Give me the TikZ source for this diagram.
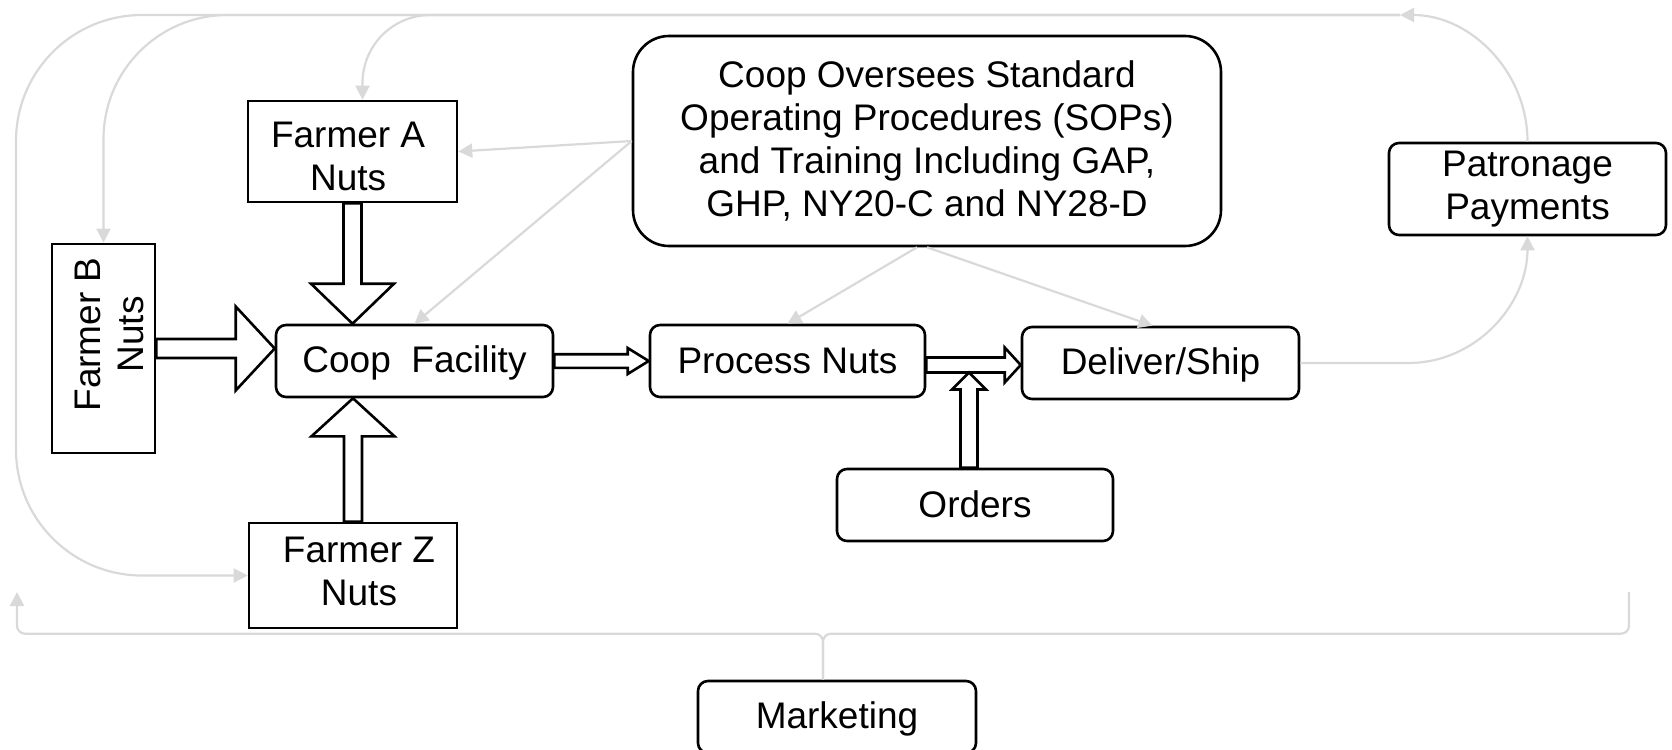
\documentclass[tikz,border=0pt]{standalone}
\usepackage{fontspec}
\setmainfont{Liberation Sans}
\usetikzlibrary{calc,arrows.meta}
\definecolor{CoopLineGray}{RGB}{217,217,217}

\begin{document}
\begin{tikzpicture}[x=0.5pt,y=-0.5pt,
  every node/.style={font=\fontsize{18.5pt}{21.5pt}\selectfont,
    execute at begin node={\rule{0pt}{15.2pt}},execute at end node={\rule[-2.8pt]{0pt}{2.8pt}}},
  farmbox/.style 2 args={draw,line width=1.3pt,fill=white,align=center,inner sep=0pt,minimum width=#1,minimum height=#2},
  farmtxt/.style={align=center,inner sep=0pt},
  rbox/.style 2 args={farmbox={#1}{#2},rounded corners=5pt},
  blk/.style={draw,line width=1.3pt,fill=white},
  gline/.style={draw=CoopLineGray,line width=1.1pt},
  garrow/.style={gline,-{Triangle[length=7pt,width=7pt]}}]
\useasboundingbox (0,0) rectangle (1672,750);
% boxes
\node[farmbox={104.5pt}{50.5pt}] (fa) at (352.5,151.5) {};
\node[farmtxt] (fatxt) at ([xshift=-2.2pt,yshift=-3.8pt]fa.center) {Farmer A\\Nuts};
\node[farmbox={51.5pt}{104.5pt}] (fb) at (103.5,348.5) {};
\node[farmtxt,rotate=90] (fbtxt) at ([xshift=4.3pt,yshift=7pt]fb.center) {Farmer B\\Nuts};
\node[farmbox={104pt}{52.5pt}] (fz) at (353,575.5) {};
\node[farmtxt] (fztxt) at ([xshift=3pt,yshift=0.7pt]fz.center) {Farmer Z\\Nuts};
\node[rbox={138.5pt}{36pt}] (coop) at (414.5,361) {Coop~~Facility};
\node[rbox={137.5pt}{36pt}] (proc) at (787.5,361) {Process Nuts};
\node[rbox={138.5pt}{36pt}] (ship) at (1160.5,363) {Deliver/Ship};
\node[rbox={138pt}{36pt}] (ord) at (975,505) {Orders};
\node[rbox={294pt}{105pt},rounded corners=18pt] (sop) at (927,141)
   {Coop Oversees Standard\\Operating Procedures (SOPs)\\and Training Including GAP,\\GHP, NY20-C and NY28-D};
\node[rbox={138.5pt}{46pt}] (pay) at (1527.5,189) {Patronage\\Payments};
\node[rbox={139pt}{36pt}] (mkt) at (837,717) {Marketing};
% grey connectors
\coordinate (top) at (1400,15);
\coordinate (lft) at (16,15);
\coordinate (mkl) at (17,592);
\coordinate (mkr) at (1629,592);
\draw[garrow] (sop.west) -- (fa.east);
\draw[garrow] (sop.west) -- (coop.north);
\draw[garrow] ([xshift=-5pt]sop.south) -- (proc.north);
\draw[garrow] (sop.south) -- ([xshift=-4pt]ship.north);
\draw[garrow] (ship.east) -- ++(108,0) to[out=0,in=-90] (pay.south);
\draw[garrow] (pay.north) to[out=90,in=0] (top);
\draw[garrow,rounded corners=34pt] (top) -| ([xshift=5pt]fa.north);
\draw[garrow,rounded corners=62pt] (top) -| (fb.north);
\draw[garrow,rounded corners=63pt] (top) -- (lft) |- (fz.west);
\draw[garrow,rounded corners=4pt] ([xshift=-7pt]mkt.north) -- ++(0,-46) -| (mkl);
\draw[gline,rounded corners=4pt] ([xshift=-7pt]mkt.north) -- ++(0,-46) -| (mkr);
% block arrows
\coordinate (tA) at (coop.north -| fa.south);
\coordinate (tB) at (coop.west |- fb.east);
\coordinate (tZ) at (coop.south -| fz.north);
\coordinate (sD) at ([yshift=-2pt]proc.east);
\coordinate (tD) at (ship.west |- sD);
\coordinate (sO) at ([xshift=-3pt]ord.north);
\coordinate (tO) at ([yshift=-3.75pt]sD -| sO);
\foreach \src/\tip/\sw/\hw/\hl in {fa.south/tA/4.5pt/20.75pt/20pt, fb.east/tB/4.75pt/21pt/19.5pt,
   fz.north/tZ/4.5pt/20.75pt/19pt, coop.east/proc.west/3.4pt/6.5pt/10.5pt,
   sD/tD/3.75pt/8.75pt/8pt, sO/tO/4.25pt/8.5pt/8.5pt} {
   \coordinate (hb) at ($(\tip)!\hl!(\src)$);
   \draw[blk] ($(\src)!\sw!90:(\tip)$) -- ($(hb)!\sw!90:(\tip)$) -- ($(hb)!\hw!90:(\tip)$) -- (\tip)
      -- ($(hb)!\hw!-90:(\tip)$) -- ($(hb)!\sw!-90:(\tip)$) -- ($(\src)!\sw!-90:(\tip)$) -- cycle;
}
\end{tikzpicture}
\end{document}
